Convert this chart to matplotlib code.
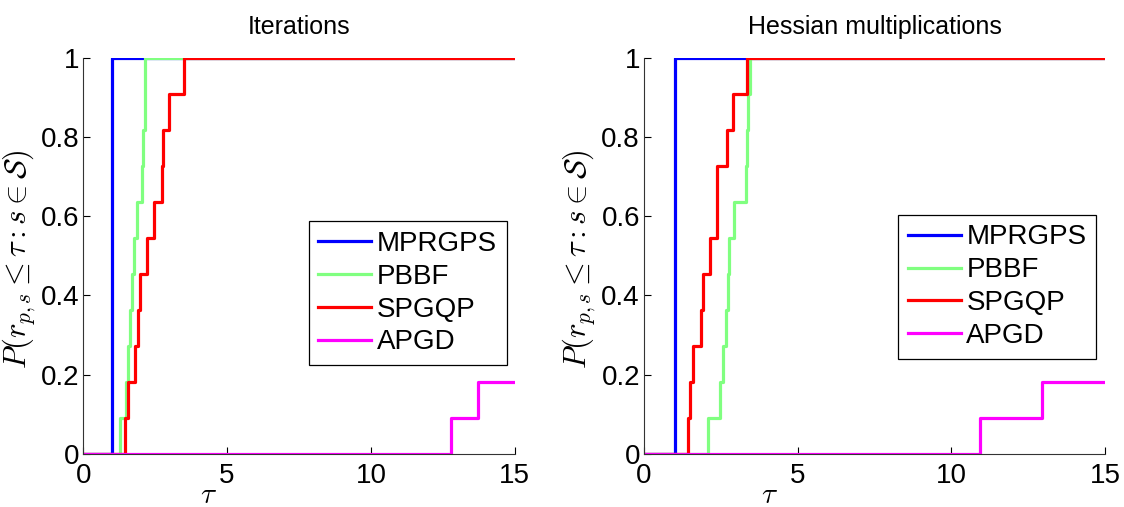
import numpy as np
import matplotlib
matplotlib.use('Agg')
import matplotlib.pyplot as plt

plt.rcParams['font.family'] = ['Liberation Sans', 'DejaVu Sans']
plt.rcParams['mathtext.fontset'] = 'cm'

# performance ratios r_{p,s} of the 11 test problems (inf = not solved in range)
solvers = ['MPRGPS', 'PBBF', 'SPGQP', 'APGD']
colors = ['#0000ff', '#80ff80', '#ff0000', '#ff00ff']
tau_max = 15

iter_ratios = {
    'MPRGPS': [1.0] * 11,
    'PBBF': [1.28, 1.48, 1.57, 1.63, 1.69, 1.78, 1.86, 2.05, 2.08, 2.14, 2.16],
    'SPGQP': [1.46, 1.57, 1.81, 1.92, 1.98, 2.21, 2.47, 2.73, 2.77, 3.0, 3.51],
    'APGD': [12.78, 13.73] + [np.inf] * 9,
}
hess_ratios = {
    'MPRGPS': [1.0] * 11,
    'PBBF': [2.09, 2.47, 2.58, 2.67, 2.74, 2.78, 2.93, 3.32, 3.34, 3.39, 3.45],
    'SPGQP': [1.42, 1.5, 1.6, 1.85, 1.91, 2.15, 2.37, 2.37, 2.69, 2.91, 3.34],
    'APGD': [10.93, 12.94] + [np.inf] * 9,
}
titles = ['Iterations', 'Hessian multiplications']


def perf_profile(ax, ratios, title, leg_top):
    for name, c in zip(solvers, colors):
        r = np.sort(np.array(ratios[name], dtype=float))
        n = len(r)
        fin = r[np.isfinite(r)]
        x = np.concatenate([[0], fin, [tau_max]])
        y = np.concatenate([[0], np.arange(1, len(fin) + 1) / n, [len(fin) / n]])
        ax.step(x, y, where='post', color=c, lw=2.3, label=name)
    ax.set_xlim(0, tau_max)
    ax.set_ylim(0, 1)
    ax.set_xticks([0, 5, 10, 15])
    ax.set_yticks([0, 0.2, 0.4, 0.6, 0.8, 1])
    ax.set_yticklabels(['0', '0.2', '0.4', '0.6', '0.8', '1'])
    ax.tick_params(direction='in', labelsize=20, length=5, width=0.8)
    ax.tick_params(axis='x', pad=7)
    ax.tick_params(axis='y', pad=3)
    for s in ['left', 'bottom']:
        ax.spines[s].set_color('#333333')
    ax.spines['top'].set_visible(False)
    ax.spines['right'].set_visible(False)
    ax.set_title(title, fontsize=18, pad=17)
    ax.set_xlabel(r'$\tau$', fontsize=21)
    ax.set_ylabel(r'$P(r_{p,s} \leq \tau : s \in \mathcal{S})$', fontsize=22)
    leg = ax.legend(loc='upper right', bbox_to_anchor=(0.981, leg_top), fontsize=20,
                    fancybox=False, edgecolor='black', framealpha=1,
                    borderaxespad=0, handlelength=1.9, handletextpad=0.2,
                    borderpad=0.35, labelspacing=0.25)
    leg.get_frame().set_linewidth(0.9)


fig = plt.figure(figsize=(11.24, 5.07), dpi=100)
ax1 = fig.add_axes([0.074, 0.105, 0.384, 0.781])
ax2 = fig.add_axes([0.573, 0.105, 0.410, 0.781])

perf_profile(ax1, iter_ratios, titles[0], 0.588)
perf_profile(ax2, hess_ratios, titles[1], 0.604)

ax1.xaxis.set_label_coords(0.29, -0.068)
ax2.xaxis.set_label_coords(0.273, -0.068)
ax1.yaxis.set_label_coords(-0.104, 0.49)
ax2.yaxis.set_label_coords(-0.10, 0.49)

fig.savefig('out.png', dpi=100)
